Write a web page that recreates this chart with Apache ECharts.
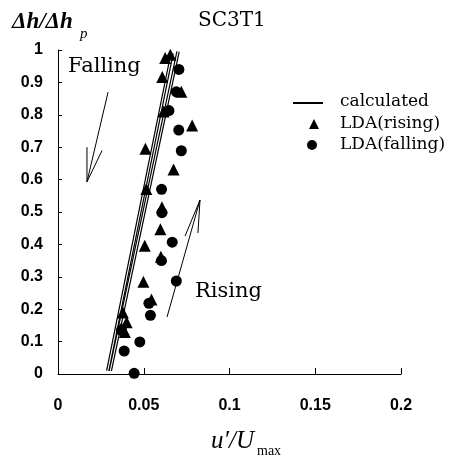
<!DOCTYPE html>
<html><head><meta charset="utf-8">
<script src="https://cdn.jsdelivr.net/npm/echarts@6/dist/echarts.min.js"></script>
<style>html,body{margin:0;padding:0;background:#fff}#c{width:458px;height:469px}</style>
</head><body><div id="c"></div>
<script>
// ---- data ----
const xTicks = ['0', '0.05', '0.1', '0.15', '0.2'];
const yTicks = ['0', '0.1', '0.2', '0.3', '0.4', '0.5', '0.6', '0.7', '0.8', '0.9', '1'];
const calcLine1 = [[0.029, 0.01], [0.0665, 0.99]];
const calcLine2 = [[0.0305, 0.01], [0.0700, 0.995]];
const ldaRising = [
  [0.0625, 0.975], [0.0655, 0.985], [0.0608, 0.917], [0.0719, 0.871], [0.0616, 0.81],
  [0.0782, 0.767], [0.051, 0.695], [0.0674, 0.631], [0.0515, 0.571], [0.0606, 0.515],
  [0.0597, 0.447], [0.0506, 0.396], [0.060, 0.362], [0.0498, 0.285], [0.0545, 0.230],
  [0.0378, 0.19], [0.040, 0.16], [0.037, 0.142], [0.039, 0.13]
];
const ldaFalling = [
  [0.0705, 0.94], [0.069, 0.871], [0.0647, 0.813], [0.0704, 0.753], [0.0719, 0.689],
  [0.0604, 0.57], [0.0606, 0.498], [0.0666, 0.407], [0.0603, 0.35], [0.069, 0.287],
  [0.053, 0.218], [0.0539, 0.181], [0.037, 0.135], [0.0477, 0.099], [0.0386, 0.071],
  [0.0444, 0.002]
];
const fallingArrow = [[0.0292, 0.870], [0.0169, 0.593]];
const fallingHead = [[0.0169, 0.70], [0.0169, 0.593], [0.0257, 0.69]];
const risingArrow = [[0.0636, 0.176], [0.0828, 0.537]];
const risingHead = [[0.0741, 0.426], [0.0828, 0.537], [0.0816, 0.435]];
const legendNames = ['calculated', 'LDA(rising)', 'LDA(falling)'];

const serif = 'DejaVu Serif';
const times = 'Liberation Serif';
const sans = 'Liberation Sans';

const chart = echarts.init(document.getElementById('c'), null, {renderer: 'canvas'});

function arrowSeries(name, data) {
  return {
    name: name, type: 'line', data: data, symbol: 'none', silent: true,
    lineStyle: {color: '#000', width: 1}, z: 1, animation: false
  };
}
function calcSeries(name, data, color, width, z) {
  return {
    name: name, type: 'line', data: data, symbol: 'none', silent: true,
    lineStyle: {color: color, width: width}, z: z, animation: false
  };
}
function legendText(y, txt) {
  return {type: 'text', x: 340, y: y, style: {text: txt, font: '17px "' + serif + '"', fill: '#000', verticalAlign: 'middle'}};
}

chart.setOption({
  animation: false,
  backgroundColor: '#fff',
  grid: {left: 58, right: 57, top: 50, bottom: 95},
  xAxis: {
    type: 'value', min: 0, max: 0.2, interval: 0.05,
    axisLine: {show: true, lineStyle: {color: '#000', width: 1}},
    axisTick: {show: true, inside: true, length: 6, lineStyle: {color: '#000'}},
    splitLine: {show: false},
    axisLabel: {
      margin: 24, color: '#000', fontFamily: sans, fontWeight: 'bold', fontSize: 16,
      formatter: v => xTicks[Math.round(v / 0.05)]
    }
  },
  yAxis: {
    type: 'value', min: 0, max: 1, interval: 0.1,
    axisLine: {show: true, lineStyle: {color: '#000', width: 1}},
    axisTick: {show: true, inside: true, length: 4, lineStyle: {color: '#000'}},
    splitLine: {show: false},
    axisLabel: {
      margin: 15, color: '#000', fontFamily: sans, fontWeight: 'bold', fontSize: 16,
      formatter: v => yTicks[Math.round(v / 0.1)]
    }
  },
  graphic: [
    {type: 'text', left: 12, top: 11, style: {text: 'Δh/Δh', font: 'italic bold 23px "' + times + '"', fill: '#000'}},
    {type: 'text', left: 80, top: 27, style: {text: 'p', font: 'italic 15px "' + times + '"', fill: '#000'}},
    {type: 'text', left: 198, top: 11, style: {text: 'SC3T1', font: '20px "' + serif + '"', fill: '#000'}},
    {type: 'text', left: 68, top: 56, style: {text: 'Falling', font: '21px "' + serif + '"', fill: '#000'}},
    {type: 'text', left: 195, top: 281, style: {text: 'Rising', font: '21px "' + serif + '"', fill: '#000'}},
    {type: 'text', left: 211, top: 429, style: {text: 'u′/U', font: 'italic 25px "' + times + '"', fill: '#000'}},
    {type: 'text', left: 257, top: 444, style: {text: 'max', font: '14px "' + times + '"', fill: '#000'}},
    // legend keys
    {type: 'line', shape: {x1: 293, y1: 103, x2: 323, y2: 103}, style: {stroke: '#000', lineWidth: 2}},
    {type: 'polygon', shape: {points: [[314, 119], [309, 129], [319, 129]]}, style: {fill: '#000'}},
    {type: 'circle', shape: {cx: 312, cy: 145, r: 5}, style: {fill: '#000'}},
    legendText(102, legendNames[0]),
    legendText(124, legendNames[1]),
    legendText(145, legendNames[2])
  ],
  series: [
    calcSeries('calculated', calcLine1, '#000', 3.5, 2),
    calcSeries('calculated', calcLine2, '#000', 3.5, 2),
    calcSeries('calc-inner-1', calcLine1, '#fff', 1.1, 3),
    calcSeries('calc-inner-2', calcLine2, '#fff', 1.1, 3),
    arrowSeries('arrow-f', fallingArrow),
    arrowSeries('arrow-fh', fallingHead),
    arrowSeries('arrow-r', risingArrow),
    arrowSeries('arrow-rh', risingHead),
    {
      name: 'LDA(rising)', type: 'scatter', data: ldaRising, symbol: 'triangle', symbolSize: 12,
      itemStyle: {color: '#000', opacity: 1}, z: 5
    },
    {
      name: 'LDA(falling)', type: 'scatter', data: ldaFalling, symbol: 'circle', symbolSize: 11,
      itemStyle: {color: '#000', opacity: 1}, z: 5
    }
  ]
});
</script>
</body></html>
